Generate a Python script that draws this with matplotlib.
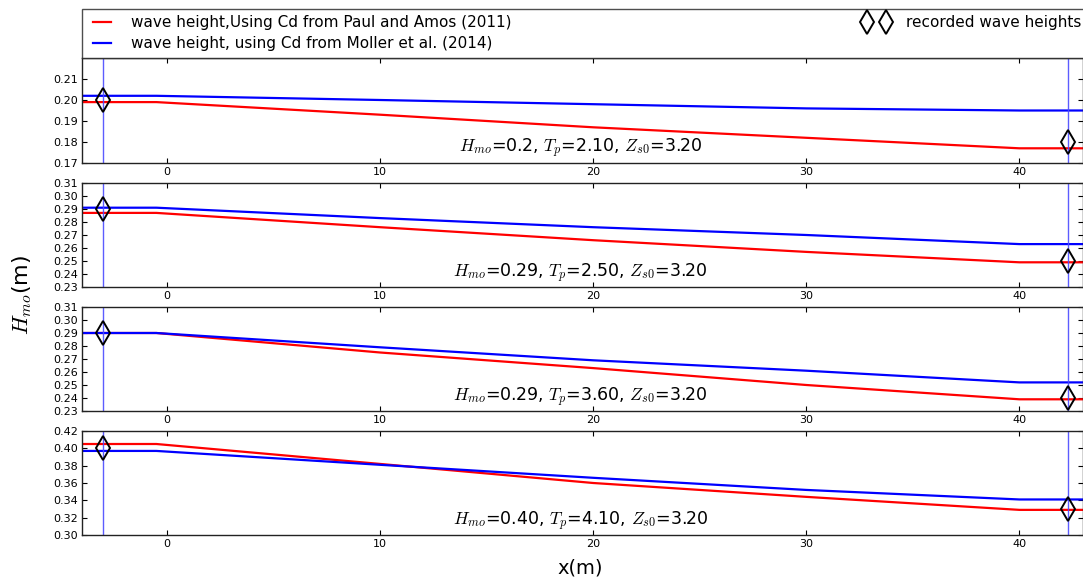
import matplotlib
matplotlib.use("Agg")
import matplotlib.pyplot as plt
from matplotlib.lines import Line2D

plt.rcParams['mathtext.fontset'] = 'cm'
plt.rcParams['font.family'] = ['DejaVu Sans']

# ---- data ----
x_pos = [-4, -0.5, 10, 20, 30, 40, 43]

red_series = [
    [0.199, 0.199, 0.193, 0.187, 0.182, 0.177, 0.177],
    [0.287, 0.287, 0.276, 0.266, 0.257, 0.249, 0.249],
    [0.290, 0.290, 0.275, 0.263, 0.250, 0.239, 0.239],
    [0.405, 0.405, 0.382, 0.360, 0.344, 0.329, 0.329],
]
blue_series = [
    [0.202, 0.202, 0.200, 0.198, 0.196, 0.195, 0.195],
    [0.291, 0.291, 0.283, 0.276, 0.270, 0.263, 0.263],
    [0.290, 0.290, 0.279, 0.269, 0.261, 0.252, 0.252],
    [0.397, 0.397, 0.381, 0.366, 0.352, 0.341, 0.341],
]
gauge_x = [-3, 42.3]
recorded = [
    [0.200, 0.180],
    [0.290, 0.250],
    [0.290, 0.240],
    [0.400, 0.330],
]
ylims = [(0.17, 0.22), (0.23, 0.31), (0.23, 0.31), (0.30, 0.42)]
yticks = [
    [0.17, 0.18, 0.19, 0.20, 0.21],
    [0.23, 0.24, 0.25, 0.26, 0.27, 0.28, 0.29, 0.30, 0.31],
    [0.23, 0.24, 0.25, 0.26, 0.27, 0.28, 0.29, 0.30, 0.31],
    [0.30, 0.32, 0.34, 0.36, 0.38, 0.40, 0.42],
]
labels = [
    r"$H_{mo}$=0.2, $T_p$=2.10, $Z_{s0}$=3.20",
    r"$H_{mo}$=0.29, $T_p$=2.50, $Z_{s0}$=3.20",
    r"$H_{mo}$=0.29, $T_p$=3.60, $Z_{s0}$=3.20",
    r"$H_{mo}$=0.40, $T_p$=4.10, $Z_{s0}$=3.20",
]
xticks = [0, 10, 20, 30, 40]

W, H = 1083, 583
fig = plt.figure(figsize=(W / 100, H / 100), dpi=100)

panel_px = [(58, 163), (183, 287), (307, 411), (431, 535)]
left = 81.8 / W
right = 1083.3 / W

axes = []
for i, (top, bot) in enumerate(panel_px):
    ax = fig.add_axes([left, 1 - bot / H, right - left, (bot - top) / H])
    ax.plot(x_pos, red_series[i], color='red', lw=1.6)
    ax.plot(x_pos, blue_series[i], color='blue', lw=1.6)
    for gx in gauge_x:
        ax.axvline(gx, color='#4a4aff', lw=1.0, alpha=0.9)
    ax.plot(gauge_x, recorded[i], linestyle='none', marker='d', ms=12,
            mfc='none', mec='black', mew=1.4)
    ax.set_xlim(-4, 43)
    ax.set_ylim(*ylims[i])
    ax.set_yticks(yticks[i])
    ax.set_yticklabels([f"{v:.2f}" for v in yticks[i]])
    ax.set_xticks(xticks)
    ax.tick_params(direction='in', top=True, right=True, length=3.5, width=0.8,
                   labelsize=8, pad=3, colors='black')
    for s in ax.spines.values():
        s.set_linewidth(1.0)
        s.set_color('#222222')
    ax.text(19.4, 0.10, labels[i], transform=ax.get_xaxis_transform(),
            ha='center', va='baseline', fontsize=12.5)
    axes.append(ax)

handles = [
    Line2D([], [], color='red', lw=1.6),
    Line2D([], [], color='blue', lw=1.6),
    Line2D([], [], linestyle='none', marker='d', ms=12, mfc='none', mec='black', mew=1.4),
]
leg_labels = ['wave height,Using Cd from Paul and Amos (2011)',
              'wave height, using Cd from Moller et al. (2014)',
              'recorded wave heights']
leg = fig.legend(handles, leg_labels, loc='lower left',
                 bbox_to_anchor=(left, 1 - 57.5 / H, 1.004 - left, 0.08),
                 mode='expand', ncol=2, numpoints=2, fontsize=11,
                 handlelength=1.8, handletextpad=1.0, borderaxespad=0,
                 fancybox=False, frameon=True, labelspacing=0.38, borderpad=0.42)
leg.get_frame().set_edgecolor('#222222')
leg.get_frame().set_linewidth(1.0)

fig.text(22 / W, 1 - 295 / H, r"$H_{mo}$(m)", rotation=90, ha='center', va='center', fontsize=16)
fig.text(580 / W, 1 - 568 / H, "x(m)", ha='center', va='center', fontsize=14)

fig.savefig("out.png", dpi=100)
